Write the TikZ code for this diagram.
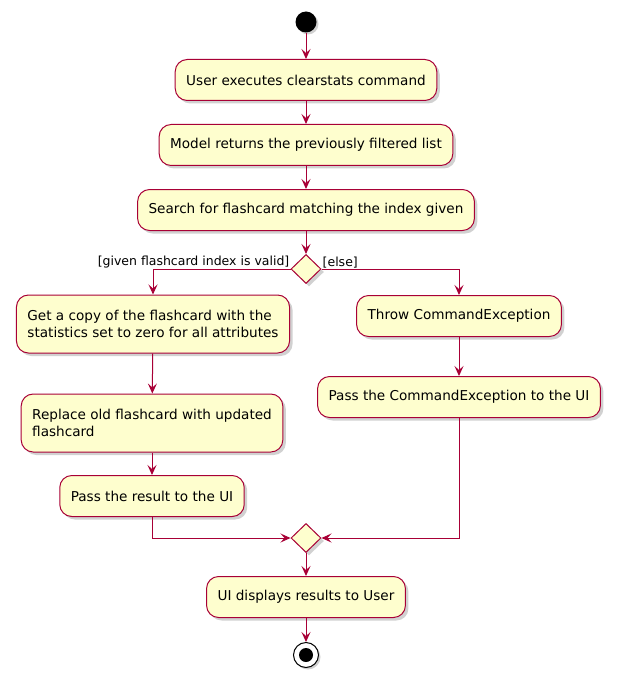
\documentclass[tikz,border=0pt]{standalone}
\usepackage{fontspec}
\setmainfont{DejaVu Sans}
\usetikzlibrary{arrows.meta,shapes.geometric,shadows}
\definecolor{cline}{RGB}{168,0,54}
\definecolor{cfill}{RGB}{254,254,206}
\definecolor{cshadow}{RGB}{190,190,190}

\begin{document}
\begin{tikzpicture}[x=1pt,y=-1pt,
    act/.style={draw=cline, fill=cfill, line width=1pt, rounded corners=12pt,
      minimum height=41pt, inner xsep=11pt, font=\fontsize{13.6}{17}\selectfont,
      drop shadow={shadow xshift=3pt, shadow yshift=-3pt, fill=cshadow, opacity=0.7}},
    branch/.style={diamond, draw=cline, fill=cfill, line width=1pt, inner sep=0pt,
      minimum width=30pt, minimum height=29pt,
      drop shadow={shadow xshift=3pt, shadow yshift=-3pt, fill=cshadow, opacity=0.7}},
    flow/.style={draw=cline, line width=1pt, -{Stealth[length=10pt, width=9pt, inset=4pt]}},
    guard/.style={font=\fontsize{12.5}{14}\selectfont, inner sep=1pt}]
    \useasboundingbox (0,0) rectangle (620,687);
    % start and end
    \node[circle, fill=black, minimum size=21pt, inner sep=0pt,
      drop shadow={shadow xshift=2pt, shadow yshift=-2pt, fill=cshadow, opacity=0.7}] (start) at (306,22) {};
    % main column
    \node[act] (exec) at (306,80) {User executes clearstats command};
    \node[act] (model) at (306,145) {Model returns the previously filtered list};
    \node[act] (search) at (306,210) {Search for flashcard matching the index given};
    \node[branch] (check) at (306,269) {};
    % valid branch
    \node[act, minimum height=58pt, align=left] (copy) at (153,324) {Get a copy of the flashcard with the\\statistics set to zero for all attributes};
    \node[act, minimum height=58pt, align=left] (replace) at (152,423) {Replace old flashcard with updated\\flashcard};
    \node[act] (result) at (152,496) {Pass the result to the UI};
    % else branch
    \node[act] (throw) at (459,316) {Throw CommandException};
    \node[act] (passexc) at (459,397) {Pass the CommandException to the UI};
    % merge
    \node[branch] (merge) at (306,538) {};
    \node[act] (show) at (306,597) {UI displays results to User};
    \node[circle, draw=black, line width=1pt, fill=white, minimum size=25pt, inner sep=0pt,
      drop shadow={shadow xshift=2pt, shadow yshift=-2pt, fill=cshadow, opacity=0.7}] (stop) at (306,655) {};
    \fill[black] (stop) circle (7pt);
    % guards
    \node[guard, anchor=south east] at (check.west) {[given flashcard index is valid]};
    \node[guard, anchor=south west] at (check.east) {[else]};
    % connectors
    \draw[flow] (start) -- (exec);
    \draw[flow] (exec) -- (model);
    \draw[flow] (model) -- (search);
    \draw[flow] (search) -- (check);
    \draw[flow] (check.west) -| (copy.north);
    \draw[flow] (check.east) -| (throw.north);
    \draw[flow] (copy) -- (replace);
    \draw[flow] (replace) -- (result);
    \draw[flow] (throw) -- (passexc);
    \draw[flow] (result.south) |- (merge.west);
    \draw[flow] (passexc.south) |- (merge.east);
    \draw[flow] (merge) -- (show);
    \draw[flow] (show) -- (stop);
\end{tikzpicture}
\end{document}
